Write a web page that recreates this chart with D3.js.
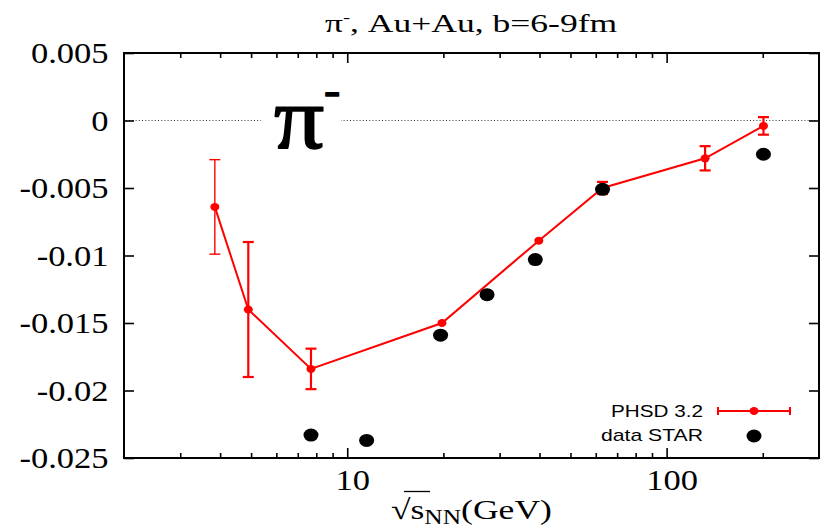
<!DOCTYPE html>
<html><head><meta charset="utf-8">
<script src="https://cdn.jsdelivr.net/npm/d3@7"></script>
<style>body{margin:0;background:#fff} svg{display:block}</style>
</head><body>
<script>
// PHSD 3.2 model: directed-flow slope vs collision energy, with error bars
const phsdEnergy = [3.85, 4.9, 7.7, 19.8, 39.8, 63, 132, 201];
const phsdValue  = [-0.0064, -0.0140, -0.0184, -0.0150, -0.0089, -0.0050, -0.0028, -0.0004];
const phsdError  = [0.0035, 0.0050, 0.0015, 0, 0, 0.00045, 0.0009, 0.00065];
// STAR measurements
const starEnergy = [7.7, 11.5, 19.6, 27.4, 38.8, 63, 201];
const starValue  = [-0.0233, -0.0237, -0.0159, -0.0129, -0.0103, -0.0051, -0.0025];
// Axis ticks
const xMajorTicks = [10, 100];
const xTickLabels = ["10", "100"];
const xMinorTicks = [3, 4, 5, 6, 7, 8, 9, 20, 30, 40, 50, 60, 70, 80, 90, 200];
const yTicks = [-0.025, -0.02, -0.015, -0.01, -0.005, 0, 0.005];
const yTickLabels = ["-0.025", "-0.02", "-0.015", "-0.01", "-0.005", "0", "0.005"];

const W = 821, H = 528;
const L = 124, R = 819, T = 53, B = 458;
const SX = 1.19; // horizontal stretch of serif labels
const serif = "'Liberation Serif', 'Times New Roman', serif";
const sans = "'Liberation Sans', Arial, sans-serif";
const RED = "#ff0000";

const svg = d3.select("body").append("svg").attr("width", W).attr("height", H);

const x = d3.scaleLog().domain([2, 300]).range([L, R]);
const y = d3.scaleLinear().domain([-0.025, 0.005]).range([B, T]);

function fitText(t, x0, x1, base) {
  const b = t.node().getBBox();
  const s = (x1 - x0) / b.width;
  t.attr("transform", `translate(${x0},${base}) scale(${s},1) translate(${-b.x},0)`);
}

// zero reference line
svg.append("line")
  .attr("x1", L + 2).attr("x2", R - 2).attr("y1", y(0)).attr("y2", y(0))
  .attr("stroke", "#333").attr("stroke-width", 1).attr("stroke-dasharray", "1,2.2");

// axes (ticks pointing inward on all four sides)
function styleAxis(g) {
  g.select(".domain").remove();
  g.selectAll(".tick line").attr("stroke", "#000").attr("stroke-width", 1.6);
}
svg.append("g").attr("transform", `translate(0,${B})`)
  .call(d3.axisBottom(x).tickValues(xMinorTicks).tickSize(-5).tickFormat(""))
  .call(styleAxis);
const xb = svg.append("g").attr("transform", `translate(0,${B})`)
  .call(d3.axisBottom(x).tickValues(xMajorTicks).tickSize(-10)
    .tickFormat((d, i) => xTickLabels[i]))
  .call(styleAxis);
xb.selectAll(".tick text")
  .attr("font-family", serif).attr("font-size", 29).attr("fill", "#000")
  .attr("y", 32).attr("dy", 0).attr("x", 5 / SX)
  .attr("transform", `scale(${SX},1)`);
svg.append("g").attr("transform", `translate(0,${T})`)
  .call(d3.axisTop(x).tickValues(xMinorTicks).tickSize(-5).tickFormat(""))
  .call(styleAxis);
svg.append("g").attr("transform", `translate(0,${T})`)
  .call(d3.axisTop(x).tickValues(xMajorTicks).tickSize(-10).tickFormat(""))
  .call(styleAxis);

const yl = svg.append("g").attr("transform", `translate(${L},0)`)
  .call(d3.axisLeft(y).tickValues(yTicks).tickSize(-10)
    .tickFormat((d, i) => yTickLabels[i]))
  .call(styleAxis);
yl.selectAll(".tick text")
  .attr("font-family", serif).attr("font-size", 29).attr("fill", "#000")
  .attr("x", -15.5 / SX).attr("dy", "0.33em")
  .attr("transform", `scale(${SX},1)`);
svg.append("g").attr("transform", `translate(${R},0)`)
  .call(d3.axisRight(y).tickValues(yTicks).tickSize(-10).tickFormat(""))
  .call(styleAxis);

// frame
svg.append("rect").attr("x", L).attr("y", T).attr("width", R - L).attr("height", B - T)
  .attr("fill", "none").attr("stroke", "#000").attr("stroke-width", 2);

// big particle label with white backing over the zero line
svg.append("rect").attr("x", 261).attr("y", 92).attr("width", 80).attr("height", 58).attr("fill", "#fff");
const bigPi = svg.append("text").attr("font-family", serif)
  .attr("stroke", "#000").attr("stroke-width", 1.6).attr("stroke-linejoin", "round");
bigPi.append("tspan").attr("font-size", 88).text("π");
bigPi.append("tspan").attr("font-size", 42).attr("dy", -44).text("-");
fitText(bigPi, 274, 340, 148);

// PHSD curve
const pts = phsdEnergy.map((e, i) => ({e, v: phsdValue[i], err: phsdError[i]}));
svg.append("path").datum(pts)
  .attr("d", d3.line().x(d => x(d.e)).y(d => y(d.v)))
  .attr("fill", "none").attr("stroke", RED).attr("stroke-width", 2);
const eb = svg.append("g").attr("stroke", RED);
pts.forEach((d, i) => {
  if (d.err <= 0) return;
  const cx = x(d.e), y0 = y(d.v - d.err), y1 = y(d.v + d.err);
  const sw = i === 0 ? 1.4 : 2.2;
  eb.append("line").attr("stroke-width", sw).attr("x1", cx).attr("x2", cx).attr("y1", y0).attr("y2", y1);
  eb.append("line").attr("stroke-width", sw).attr("x1", cx - 5.5).attr("x2", cx + 5.5).attr("y1", y0).attr("y2", y0);
  eb.append("line").attr("stroke-width", sw).attr("x1", cx - 5.5).attr("x2", cx + 5.5).attr("y1", y1).attr("y2", y1);
});
svg.append("g").selectAll("ellipse").data(pts).join("ellipse")
  .attr("cx", d => x(d.e)).attr("cy", d => y(d.v))
  .attr("rx", 4.5).attr("ry", 4).attr("fill", RED);

// STAR data
svg.append("g").selectAll("ellipse").data(starEnergy).join("ellipse")
  .attr("cx", d => x(d)).attr("cy", (d, i) => y(starValue[i]))
  .attr("rx", 7.5).attr("ry", 6.5).attr("fill", "#000");

// legend
const lg1 = svg.append("text").attr("font-family", sans).attr("font-size", 17).text("PHSD 3.2");
fitText(lg1, 611, 703, 417);
const lg2 = svg.append("text").attr("font-family", sans).attr("font-size", 17).text("data STAR");
fitText(lg2, 601, 703, 441);
const lgy = 411;
svg.append("line").attr("x1", 718).attr("x2", 790).attr("y1", lgy).attr("y2", lgy)
  .attr("stroke", RED).attr("stroke-width", 2);
[718, 790].forEach(cx => svg.append("line").attr("x1", cx).attr("x2", cx)
  .attr("y1", lgy - 4).attr("y2", lgy + 4).attr("stroke", RED).attr("stroke-width", 2));
svg.append("ellipse").attr("cx", 754).attr("cy", lgy).attr("rx", 4.5).attr("ry", 4).attr("fill", RED);
svg.append("ellipse").attr("cx", 754).attr("cy", 436).attr("rx", 7.5).attr("ry", 6.5).attr("fill", "#000");

// title
const title = svg.append("text").attr("font-family", serif).attr("font-size", 25);
title.append("tspan").text("π");
title.append("tspan").attr("font-size", 15).attr("dy", -10).text("-");
title.append("tspan").attr("dy", 10).text(", Au+Au, b=6-9fm");
fitText(title, 325, 618, 32);

// x-axis title
const xt = svg.append("text").attr("font-family", serif).attr("font-size", 28);
xt.append("tspan").text("√s");
xt.append("tspan").attr("font-size", 20).attr("dy", 5).text("NN");
xt.append("tspan").attr("dy", -5).text("(GeV)");
fitText(xt, 391, 552, 519);
svg.append("line").attr("x1", 404).attr("x2", 430).attr("y1", 491.5).attr("y2", 491.5)
  .attr("stroke", "#000").attr("stroke-width", 1.3);
</script>
</body></html>
